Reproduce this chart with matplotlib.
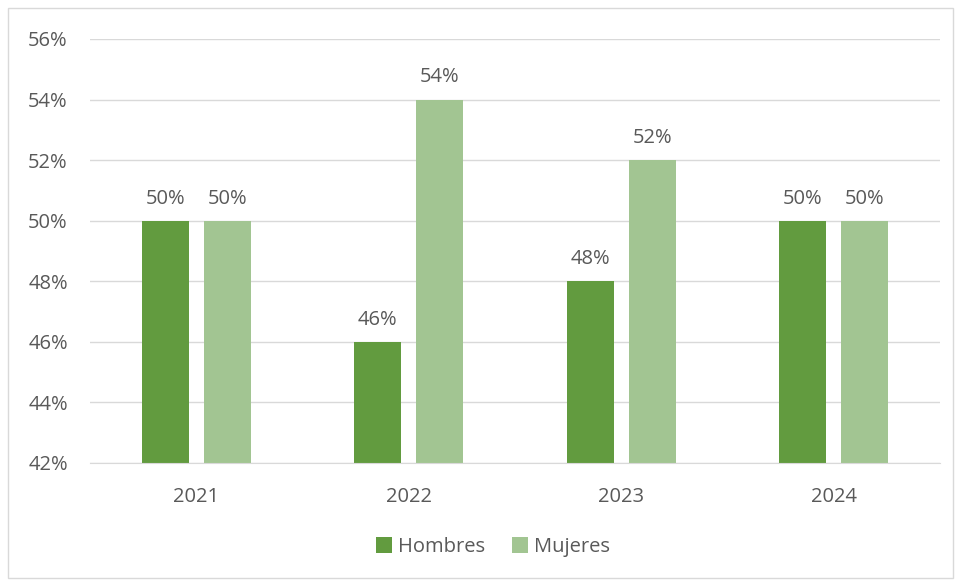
import matplotlib
matplotlib.use("Agg")
import matplotlib.pyplot as plt
from matplotlib.patches import Rectangle
import numpy as np

years = ["2021", "2022", "2023", "2024"]
hombres = [50, 46, 48, 50]
mujeres = [50, 54, 52, 50]
yticks = [42, 44, 46, 48, 50, 52, 54, 56]

c_h = "#629B3F"
c_m = "#A2C592"
txt = "#595959"

plt.rcParams['font.family'] = ['Open Sans', 'DejaVu Sans']
fs = 14.5

fig = plt.figure(figsize=(9.55, 5.8), dpi=100)
fig.patches.append(Rectangle((8/955, 2/580), 945/955, 570/580, transform=fig.transFigure,
                             fill=False, edgecolor="#D9D9D9", linewidth=1))
ax = fig.add_axes([90/955, 1-463/580, 850/955, 424/580])

x = np.arange(len(years))
w = 0.221
off = 0.146
b1 = ax.bar(x - off, [h - 42 for h in hombres], w, bottom=42, color=c_h, label="Hombres", zorder=3)
b2 = ax.bar(x + off, [m - 42 for m in mujeres], w, bottom=42, color=c_m, label="Mujeres", zorder=3)

for xi, v in zip(x - off, hombres):
    ax.text(xi, v + 0.4, f"{v}%", ha="center", va="bottom", fontsize=fs, color=txt)
for xi, v in zip(x + off, mujeres):
    ax.text(xi, v + 0.4, f"{v}%", ha="center", va="bottom", fontsize=fs, color=txt)

ax.set_xlim(-0.5, 3.5)
ax.set_ylim(42, 56)
ax.set_yticks(yticks)
ax.set_yticklabels([f"{t}%" for t in yticks])
ax.set_xticks(x)
ax.set_xticklabels(years)
ax.tick_params(axis="both", length=0, labelsize=fs, colors=txt)
ax.tick_params(axis="y", pad=16)
ax.tick_params(axis="x", pad=17)
ax.yaxis.grid(True, color="#D9D9D9", linewidth=1, zorder=0)
for s in ["top", "right", "left"]:
    ax.spines[s].set_visible(False)
ax.spines["bottom"].set_color("#D9D9D9")
ax.spines["bottom"].set_zorder(4)

leg = fig.legend(handles=[b1, b2], labels=["Hombres", "Mujeres"], loc="center",
                 bbox_to_anchor=(493/955, 1-547/580), ncol=2, frameon=False,
                 fontsize=fs, handlelength=0.8, handleheight=0.8, handletextpad=0.3,
                 columnspacing=1.3)
for t in leg.get_texts():
    t.set_color(txt)

fig.savefig("out.png", dpi=100)
